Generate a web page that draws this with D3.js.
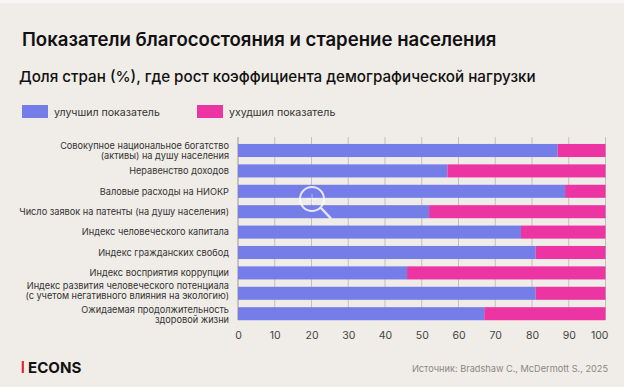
<!DOCTYPE html>
<html>
<head>
<meta charset="utf-8">
<script src="https://cdn.jsdelivr.net/npm/d3@7"></script>
<style>
  html, body { margin: 0; padding: 0; background: #f0ece8; }
  svg { display: block; font-family: Inter, "Liberation Sans", sans-serif; }
</style>
</head>
<body>
<svg id="chart"></svg>
<script>
// Indicators, each one a list of label lines
const categories = [
  ["Совокупное национальное богатство", "(активы) на душу населения"],
  ["Неравенство доходов"],
  ["Валовые расходы на НИОКР"],
  ["Число заявок на патенты (на душу населения)"],
  ["Индекс человеческого капитала"],
  ["Индекс гражданских свобод"],
  ["Индекс восприятия коррупции"],
  ["Индекс развития человеческого потенциала", "(с учетом негативного влияния на экологию)"],
  ["Ожидаемая продолжительность", "здоровой жизни"]
];

// Share of countries (%)
const improved = [87, 57, 89, 52, 77, 81, 46, 81, 67];
const worsened = [13, 43, 11, 48, 23, 19, 54, 19, 33];

const xTicks = [0, 10, 20, 30, 40, 50, 60, 70, 80, 90, 100];
const seriesNames = ["улучшил показатель", "ухудшил показатель"];
const seriesColors = ["#757de8", "#ec35a2"];

const width = 624;
const height = 387;

const svg = d3.select("#chart")
  .attr("width", width)
  .attr("height", height);

// Thin light strip at the very top of the image
svg.append("rect")
  .attr("width", width)
  .attr("height", 3)
  .attr("fill", "#f8f6f4");

svg.append("text")
  .attr("x", 22)
  .attr("y", 46)
  .attr("font-size", 18.6)
  .attr("font-weight", 600)
  .attr("fill", "#111")
  .text("Показатели благосостояния и старение населения");

svg.append("text")
  .attr("x", 19)
  .attr("y", 81.5)
  .attr("font-size", 15.2)
  .attr("font-weight", 500)
  .attr("fill", "#111")
  .text("Доля стран (%), где рост коэффициента демографической нагрузки");

// Legend
const legend = svg.append("g")
  .selectAll("g")
  .data(seriesNames)
  .enter()
  .append("g")
  .attr("transform", (d, i) => `translate(${i === 0 ? 22 : 197},105)`);

legend.append("rect")
  .attr("width", 26)
  .attr("height", 13)
  .attr("fill", (d, i) => seriesColors[i]);

legend.append("text")
  .attr("x", 32)
  .attr("y", 10.5)
  .attr("font-size", 10.6)
  .attr("fill", "#333")
  .text(d => d);

// Scales
const x = d3.scaleLinear()
  .domain([0, 100])
  .range([238, 605.5]);

const y = d3.scaleBand()
  .domain(d3.range(categories.length))
  .range([140.3, 323.9])
  .paddingInner(0.36)
  .paddingOuter(0.18);

// Grid lines sit behind the bars
svg.append("g")
  .selectAll("line")
  .data(xTicks)
  .enter()
  .append("line")
  .attr("x1", d => x(d))
  .attr("x2", d => x(d))
  .attr("y1", 137)
  .attr("y2", 320)
  .attr("stroke", d => d === 0 ? "#9a9894" : "#c4c1bc")
  .attr("stroke-width", 1);

// Stacked bars
const rows = categories.map((c, i) => ({ i, improved: improved[i], worsened: worsened[i] }));
const stack = d3.stack().keys(["improved", "worsened"])(rows);

svg.append("g")
  .selectAll("g")
  .data(stack)
  .enter()
  .append("g")
  .attr("fill", (d, i) => seriesColors[i])
  .selectAll("rect")
  .data(d => d)
  .enter()
  .append("rect")
  .attr("x", d => x(d[0]))
  .attr("width", d => x(d[1]) - x(d[0]))
  .attr("y", d => y(d.data.i))
  .attr("height", y.bandwidth());

// Category labels, one or two lines centred on the bar
// The last two rows are squeezed apart in the original, so they get a nudge
const labelNudge = { 7: -3, 8: 1 };

const labels = svg.append("g")
  .selectAll("text")
  .data(categories)
  .enter()
  .append("text")
  .attr("text-anchor", "end")
  .attr("font-size", 9.2)
  .attr("fill", "#333");

labels.selectAll("tspan")
  .data((d, i) => d.map((line, k) => ({ line, k, n: d.length, i })))
  .enter()
  .append("tspan")
  .attr("x", 229)
  .attr("y", d => y(d.i) + y.bandwidth() / 2 + 3.2 + (labelNudge[d.i] || 0) + (d.k - (d.n - 1) / 2) * 10)
  .text(d => d.line);

// Axis tick labels
const axis = svg.append("g")
  .attr("transform", "translate(0,320)")
  .call(d3.axisBottom(x).tickValues(xTicks).tickSize(0).tickPadding(11.5));
axis.select(".domain").remove();
axis.selectAll("text")
  .attr("font-family", "Inter, 'Liberation Sans', sans-serif")
  .attr("font-size", 10.5)
  .attr("fill", "#444");
// The last label stays inside the margin
axis.selectAll("text")
  .filter(d => d === 100)
  .attr("text-anchor", "end")
  .attr("dx", 2.5);

// Magnifier icon over the bars
const lens = svg.append("g")
  .attr("fill", "none")
  .attr("stroke", "#fff")
  .attr("stroke-opacity", 0.8);
lens.append("circle")
  .attr("cx", 312)
  .attr("cy", 199)
  .attr("r", 12)
  .attr("stroke-width", 2);
lens.append("line")
  .attr("x1", 321)
  .attr("y1", 208)
  .attr("x2", 331)
  .attr("y2", 218.5)
  .attr("stroke-width", 2.5);
lens.append("path")
  .attr("d", "M307 199H317M312 194V204")
  .attr("stroke-width", 1)
  .attr("stroke-opacity", 0.5);

// Footer
svg.append("rect")
  .attr("x", 21.7)
  .attr("y", 361)
  .attr("width", 2.2)
  .attr("height", 12)
  .attr("fill", "#e3262e");

svg.append("text")
  .attr("x", 28)
  .attr("y", 372.5)
  .attr("font-size", 15.1)
  .attr("font-weight", 700)
  .attr("fill", "#111")
  .text("ECONS");

svg.append("text")
  .attr("x", 608)
  .attr("y", 372)
  .attr("text-anchor", "end")
  .attr("font-size", 9.2)
  .attr("fill", "#8a8886")
  .text("Источник: Bradshaw C., McDermott S., 2025");
</script>
</body>
</html>
